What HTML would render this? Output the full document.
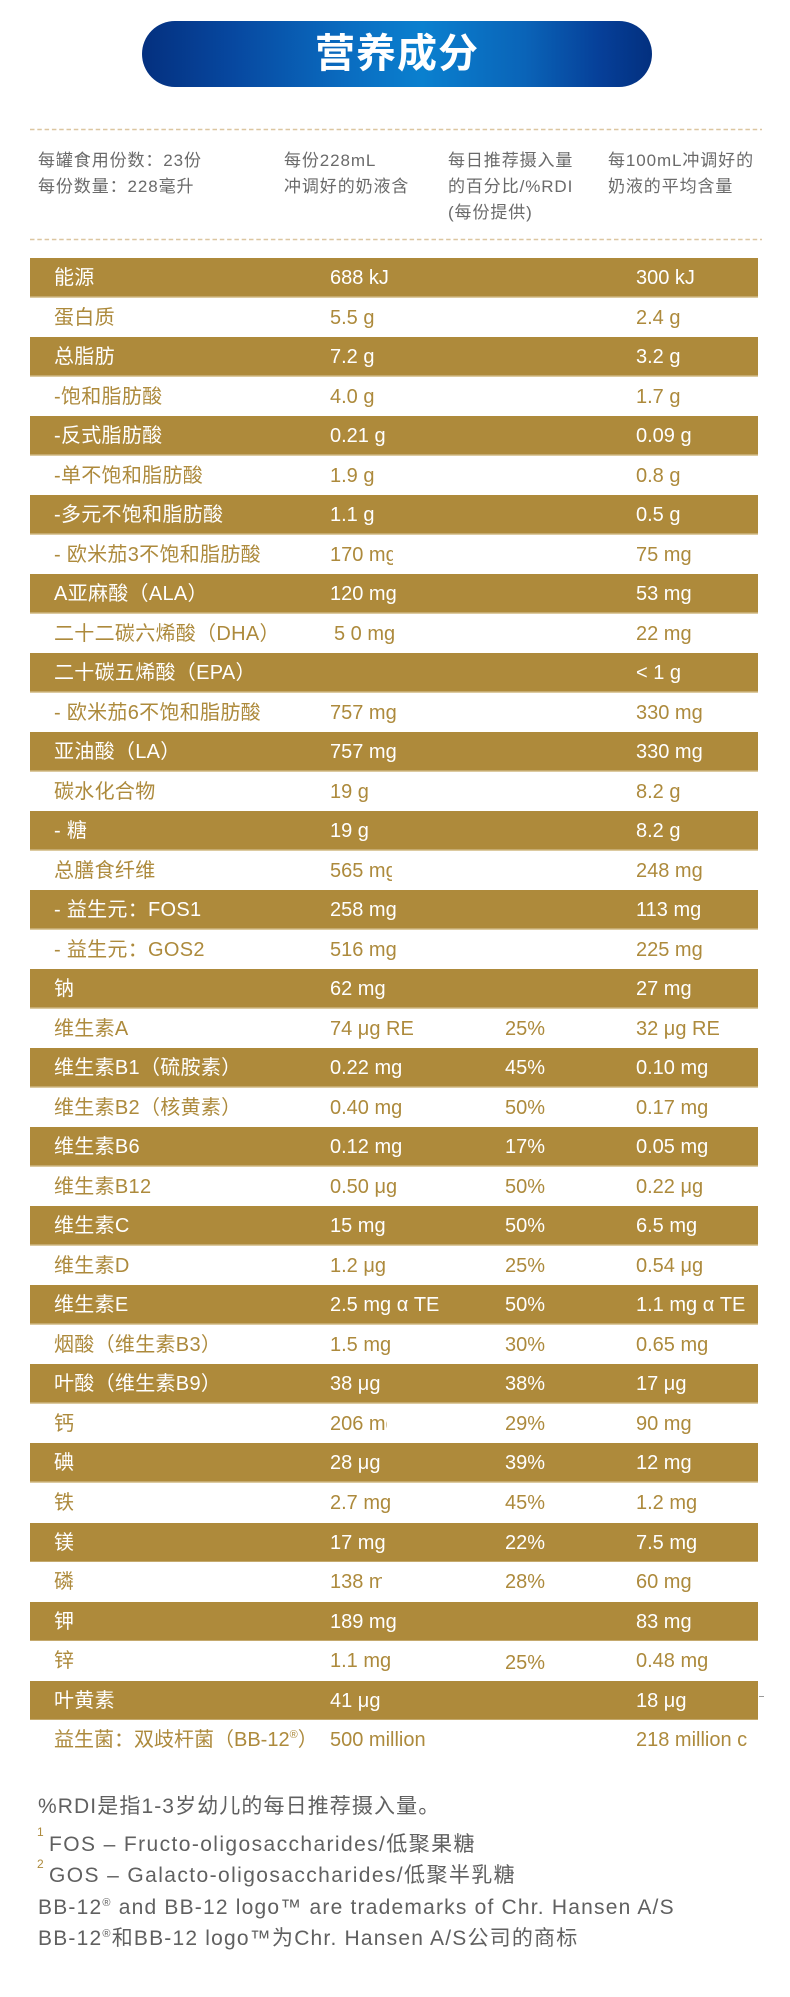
<!DOCTYPE html>
<html>
<head>
<meta charset="utf-8">
<style>
  html, body { margin:0; padding:0; }
  body { width:790px; height:1997px; position:relative; background:#fff; overflow:hidden;
         font-family:"Liberation Sans","Noto Sans CJK SC",sans-serif; }
  .pill { position:absolute; left:142px; top:21px; width:510px; height:66px; border-radius:33px;
          background:linear-gradient(90deg,#04307f 0%,#0748a0 18%,#0a6cc0 40%,#0a80cf 55%,#0a64b8 75%,#063f98 90%,#03307f 100%);
          color:#fff; text-align:center; line-height:66px; font-size:40px; font-weight:bold; letter-spacing:1px;
          font-family:"Liberation Sans","Noto Sans CJK SC",sans-serif; }
  .hd { position:absolute; top:148px; font-size:17px; line-height:26px; color:#6a6a6a; letter-spacing:0.9px; white-space:nowrap; }
  .tbl { position:absolute; left:30px; top:258px; width:728px; overflow:hidden; }
  .r { position:relative; height:39.53px; font-size:20px; color:#ad8a3c; }
  .r.g { background:linear-gradient(to bottom,#ae8a3b 0,#ae8a3b 38.7px,#dccaa0 38.7px,#dccaa0 100%); color:#fff; }
  .r span { position:absolute; top:0; line-height:40px; white-space:nowrap; }
  .c1 { left:24px; letter-spacing:0.3px; }
  .c2 { left:300px; }
  .c3 { left:475px; }
  .c4 { left:606px; }
  .clip { overflow:hidden; }
  .ft { position:absolute; left:38px; font-size:21px; line-height:32px; color:#606060; white-space:nowrap; letter-spacing:1.3px; }
  .sup { position:absolute; left:37px; font-size:12px; color:#ad8a3c; line-height:12px; }
  sup.r2 { font-size:11px; vertical-align:8px; line-height:0; }
</style>
</head>
<body>
<div class="pill">营养成分</div>

<svg width="790" height="260" style="position:absolute;left:0;top:0">
  <line x1="30" y1="129.5" x2="762" y2="129.5" stroke="#dcc6a0" stroke-width="1.6" stroke-dasharray="4.5 2.8"/>
  <line x1="30" y1="239.5" x2="762" y2="239.5" stroke="#dcc6a0" stroke-width="1.6" stroke-dasharray="4.5 2.8"/>
</svg>

<div class="hd" style="left:38px">每罐食用份数：23份<br>每份数量：228毫升</div>
<div class="hd" style="left:284px">每份228mL<br>冲调好的奶液含</div>
<div class="hd" style="left:448px">每日推荐摄入量<br>的百分比/%RDI<br>(每份提供)</div>
<div class="hd" style="left:608px">每100mL冲调好的<br>奶液的平均含量</div>

<div class="tbl">
  <div class="r g"><span class="c1">能源</span><span class="c2">688 kJ</span><span class="c4">300 kJ</span></div>
  <div class="r"><span class="c1">蛋白质</span><span class="c2">5.5 g</span><span class="c4">2.4 g</span></div>
  <div class="r g"><span class="c1">总脂肪</span><span class="c2">7.2 g</span><span class="c4">3.2 g</span></div>
  <div class="r"><span class="c1">-饱和脂肪酸</span><span class="c2">4.0 g</span><span class="c4">1.7 g</span></div>
  <div class="r g"><span class="c1">-反式脂肪酸</span><span class="c2">0.21 g</span><span class="c4">0.09 g</span></div>
  <div class="r"><span class="c1">-单不饱和脂肪酸</span><span class="c2">1.9 g</span><span class="c4">0.8 g</span></div>
  <div class="r g"><span class="c1">-多元不饱和脂肪酸</span><span class="c2">1.1 g</span><span class="c4">0.5 g</span></div>
  <div class="r"><span class="c1">- 欧米茄3不饱和脂肪酸</span><span class="c2 clip" style="width:63px">170 mg</span><span class="c4">75 mg</span></div>
  <div class="r g"><span class="c1">A亚麻酸（ALA）</span><span class="c2">120 mg</span><span class="c4">53 mg</span></div>
  <div class="r"><span class="c1">二十二碳六烯酸（DHA）</span><span class="c2" style="left:304px">5 0 mg</span><span class="c4">22 mg</span></div>
  <div class="r g"><span class="c1">二十碳五烯酸（EPA）</span><span class="c4">&lt; 1 g</span></div>
  <div class="r"><span class="c1">- 欧米茄6不饱和脂肪酸</span><span class="c2">757 mg</span><span class="c4">330 mg</span></div>
  <div class="r g"><span class="c1">亚油酸（LA）</span><span class="c2">757 mg</span><span class="c4">330 mg</span></div>
  <div class="r"><span class="c1">碳水化合物</span><span class="c2">19 g</span><span class="c4">8.2 g</span></div>
  <div class="r g"><span class="c1">- 糖</span><span class="c2">19 g</span><span class="c4">8.2 g</span></div>
  <div class="r"><span class="c1">总膳食纤维</span><span class="c2 clip" style="width:62px">565 mg</span><span class="c4">248 mg</span></div>
  <div class="r g"><span class="c1">- 益生元：FOS1</span><span class="c2">258 mg</span><span class="c4">113 mg</span></div>
  <div class="r"><span class="c1">- 益生元：GOS2</span><span class="c2">516 mg</span><span class="c4">225 mg</span></div>
  <div class="r g"><span class="c1">钠</span><span class="c2">62 mg</span><span class="c4">27 mg</span></div>
  <div class="r"><span class="c1">维生素A</span><span class="c2">74 μg RE</span><span class="c3">25%</span><span class="c4">32 μg RE</span></div>
  <div class="r g"><span class="c1">维生素B1（硫胺素）</span><span class="c2">0.22 mg</span><span class="c3">45%</span><span class="c4">0.10 mg</span></div>
  <div class="r"><span class="c1">维生素B2（核黄素）</span><span class="c2">0.40 mg</span><span class="c3">50%</span><span class="c4">0.17 mg</span></div>
  <div class="r g"><span class="c1">维生素B6</span><span class="c2">0.12 mg</span><span class="c3">17%</span><span class="c4">0.05 mg</span></div>
  <div class="r"><span class="c1">维生素B12</span><span class="c2">0.50 μg</span><span class="c3">50%</span><span class="c4">0.22 μg</span></div>
  <div class="r g"><span class="c1">维生素C</span><span class="c2">15 mg</span><span class="c3">50%</span><span class="c4">6.5 mg</span></div>
  <div class="r"><span class="c1">维生素D</span><span class="c2">1.2 μg</span><span class="c3">25%</span><span class="c4">0.54 μg</span></div>
  <div class="r g"><span class="c1">维生素E</span><span class="c2">2.5 mg α TE</span><span class="c3">50%</span><span class="c4">1.1 mg α TE</span></div>
  <div class="r"><span class="c1">烟酸（维生素B3）</span><span class="c2">1.5 mg</span><span class="c3">30%</span><span class="c4">0.65 mg</span></div>
  <div class="r g"><span class="c1">叶酸（维生素B9）</span><span class="c2">38 μg</span><span class="c3">38%</span><span class="c4">17 μg</span></div>
  <div class="r"><span class="c1">钙</span><span class="c2 clip" style="width:57px">206 mg</span><span class="c3">29%</span><span class="c4">90 mg</span></div>
  <div class="r g"><span class="c1">碘</span><span class="c2">28 μg</span><span class="c3">39%</span><span class="c4">12 mg</span></div>
  <div class="r"><span class="c1">铁</span><span class="c2">2.7 mg</span><span class="c3">45%</span><span class="c4">1.2 mg</span></div>
  <div class="r g"><span class="c1">镁</span><span class="c2">17 mg</span><span class="c3">22%</span><span class="c4">7.5 mg</span></div>
  <div class="r"><span class="c1">磷</span><span class="c2 clip" style="width:52px">138 mg</span><span class="c3">28%</span><span class="c4">60 mg</span></div>
  <div class="r g"><span class="c1">钾</span><span class="c2">189 mg</span><span class="c4">83 mg</span></div>
  <div class="r"><span class="c1">锌</span><span class="c2">1.1 mg</span><span class="c3" style="top:2px">25%</span><span class="c4">0.48 mg</span></div>
  <div class="r g"><span class="c1">叶黄素</span><span class="c2">41 μg</span><span class="c4">18 μg</span></div>
  <div class="r"><span class="c1" style="letter-spacing:0">益生菌：双歧杆菌（BB-12<sup class="r2">®</sup>）</span><span class="c2">500 million</span><span class="c4 clip" style="width:121px">218 million c</span></div>
</div>
<div style="position:absolute;left:759px;top:1696px;width:5px;height:1px;background:#999"></div>

<div class="ft" style="top:1791px;letter-spacing:1.1px">%RDI是指1-3岁幼儿的每日推荐摄入量。</div>
<div class="sup" style="top:1826px">1</div>
<div class="ft" style="top:1829px;left:49px;letter-spacing:1.4px">FOS – Fructo-oligosaccharides/低聚果糖</div>
<div class="sup" style="top:1858px">2</div>
<div class="ft" style="top:1860px;left:49px;letter-spacing:1.4px">GOS – Galacto-oligosaccharides/低聚半乳糖</div>
<div class="ft" style="top:1892px;letter-spacing:1.2px">BB-12<sup class="r2">®</sup> and BB-12 logo™ are trademarks of Chr. Hansen A/S</div>
<div class="ft" style="top:1923px;letter-spacing:1.2px">BB-12<sup class="r2">®</sup>和BB-12 logo™为Chr. Hansen A/S公司的商标</div>
</body>
</html>
